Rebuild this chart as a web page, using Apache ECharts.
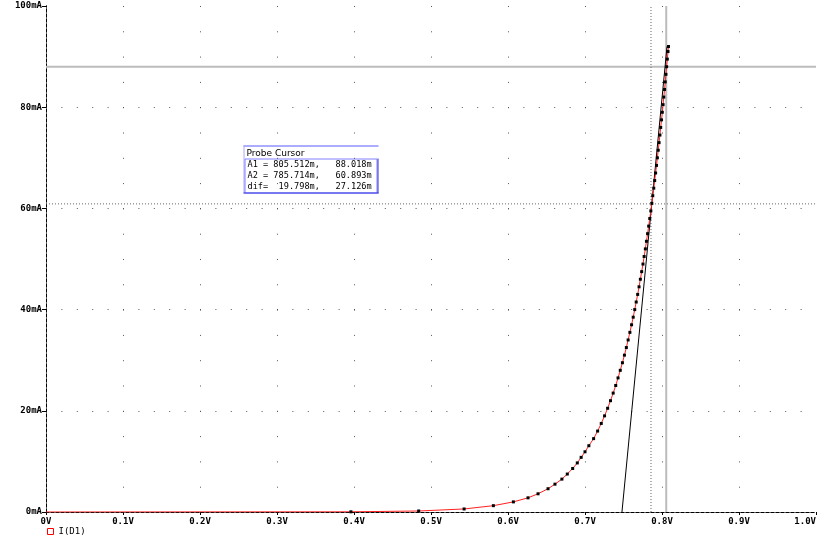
<!DOCTYPE html>
<html>
<head>
<meta charset="utf-8">
<script src="https://cdn.jsdelivr.net/npm/echarts@6/dist/echarts.min.js"></script>
<style>
html,body{margin:0;padding:0;background:#fff;}
#chart{width:825px;height:537px;}
</style>
</head>
<body>
<div id="chart"></div>
<script>
// ---- data ----
const xTickLabels = ['0V','0.1V','0.2V','0.3V','0.4V','0.5V','0.6V','0.7V','0.8V','0.9V','1.0V'];
const yTickLabels = ['0mA','20mA','40mA','60mA','80mA','100mA'];
const seriesName = 'I(D1)';
// diode voltage (V)
const diodeV = [0, 0.396, 0.484, 0.543, 0.581, 0.607, 0.626, 0.639, 0.652, 0.661, 0.670, 0.677, 0.684, 0.690, 0.695, 0.700, 0.705,
  0.7112, 0.7164, 0.7211, 0.7254, 0.7294, 0.7331, 0.7366, 0.7399, 0.7429, 0.7458, 0.7486, 0.7512, 0.7537, 0.7560,
  0.7583, 0.7605, 0.7626, 0.7646, 0.7665, 0.7684, 0.7702, 0.7719, 0.7736, 0.7753, 0.7768, 0.7784, 0.7798, 0.7813,
  0.7827, 0.7841, 0.7855, 0.7868, 0.7880, 0.7893, 0.7905, 0.7917, 0.7929, 0.7940, 0.7951, 0.7962, 0.7973, 0.7983,
  0.7994, 0.8004, 0.8014, 0.8023, 0.8033, 0.8042, 0.8051, 0.8060, 0.8069, 0.8078, 0.8084];
// diode current (mA)
const diodeI = [0, 0.04, 0.2, 0.6, 1.25, 2.0, 2.8, 3.6, 4.6, 5.5, 6.5, 7.5, 8.6, 9.7, 10.8, 11.9, 13.1,
  14.5, 16, 17.5, 19, 20.5, 22, 23.5, 25, 26.5, 28, 29.5, 31, 32.5, 34,
  35.5, 37, 38.5, 40, 41.5, 43, 44.5, 46, 47.5, 49, 50.5, 52, 53.5, 55,
  56.5, 58, 59.5, 61, 62.5, 64, 65.5, 67, 68.5, 70, 71.5, 73, 74.5, 76,
  77.5, 79, 80.5, 82, 83.5, 85, 86.5, 88, 89.5, 91, 92];
// slope line (V, mA)
const slopeV = [0.748, 0.8065];
const slopeI = [0, 92];
// probe cursors (V, mA)
const cursorA1 = [0.805512, 88.018];
const cursorA2 = [0.785714, 60.893];
const probeTitle = 'Probe Cursor';
const probeRows = ['A1 = 805.512m,   88.018m', 'A2 = 785.714m,   60.893m', 'dif=  19.798m,   27.126m'];

// ---- chart ----
const FONT = 'DejaVu Sans Mono';
const X_MIN = 0, X_MAX = 1, Y_MIN = 0, Y_MAX = 100;
const curveData = diodeV.map((v, i) => i === 0 ? {value: [v, diodeI[i]], symbol: 'none'} : [v, diodeI[i]]);
const slopeData = slopeV.map((v, i) => [v, slopeI[i]]);
const dashBorder = {show: true, lineStyle: {color: '#000', width: 1, type: [3, 2]}};
function cursorSeries(data, style) {
  return {type: 'line', data: data, showSymbol: false, silent: true, z: 1, lineStyle: style, animation: false};
}
const solidCursor = {color: '#bcbcbc', width: 2, type: 'solid'};
const dotCursor = {color: '#666', width: 1, type: [1, 2]};

const chart = echarts.init(document.getElementById('chart'), null, {renderer: 'canvas'});
chart.setOption({
  animation: false,
  backgroundColor: '#fff',
  grid: {left: 46, right: 9, top: 6, bottom: 25, containLabel: false, outerBoundsMode: 'none'},
  legend: {
    data: [seriesName], left: 47, top: 527, padding: 0, icon: 'rect', itemWidth: 6, itemHeight: 6, itemGap: 4,
    itemStyle: {color: '#fff', borderColor: '#ff0000', borderWidth: 1},
    textStyle: {fontFamily: FONT, fontSize: 9, color: '#000'}
  },
  xAxis: [{
    type: 'value', min: X_MIN, max: X_MAX, interval: 0.1, position: 'bottom',
    axisLine: dashBorder,
    axisTick: {show: true, length: 3, lineStyle: {color: '#000'}},
    axisLabel: {fontFamily: FONT, fontSize: 9, fontWeight: 'bold', color: '#000', margin: 5,
      alignMaxLabel: 'right',
      formatter: v => xTickLabels[Math.round(v * 10)]},
    splitLine: {show: true, showMinLine: false, showMaxLine: false, lineStyle: {color: '#555', width: 1, type: [1, 24.3]}}
  }, {
    type: 'value', min: X_MIN, max: X_MAX, interval: 0.1, position: 'top',
    axisLine: dashBorder, axisTick: {show: false}, axisLabel: {show: false}, splitLine: {show: false}
  }],
  yAxis: [{
    type: 'value', min: Y_MIN, max: Y_MAX, interval: 20, position: 'left',
    axisLine: dashBorder,
    axisTick: {show: true, length: 4, lineStyle: {color: '#000'}},
    axisLabel: {fontFamily: FONT, fontSize: 9, fontWeight: 'bold', color: '#000', margin: 4,
      formatter: v => yTickLabels[Math.round(v / 20)]},
    splitLine: {show: true, showMinLine: false, showMaxLine: false, lineStyle: {color: '#555', width: 1, type: [1, 14.4]}}
  }, {
    type: 'value', min: Y_MIN, max: Y_MAX, interval: 20, position: 'right',
    axisLine: dashBorder, axisTick: {show: false}, axisLabel: {show: false}, splitLine: {show: false}
  }],
  series: [
    cursorSeries([[cursorA1[0], Y_MIN], [cursorA1[0], Y_MAX]], solidCursor),
    cursorSeries([[X_MIN, cursorA1[1]], [X_MAX, cursorA1[1]]], solidCursor),
    cursorSeries([[cursorA2[0], Y_MIN], [cursorA2[0], Y_MAX]], dotCursor),
    cursorSeries([[X_MIN, cursorA2[1]], [X_MAX, cursorA2[1]]], dotCursor),
  {
    name: 'slope', type: 'line', data: slopeData, showSymbol: false, silent: true, z: 3,
    lineStyle: {color: '#000', width: 1}
  }, {
    name: seriesName, type: 'line', data: curveData, z: 4,
    symbol: 'rect', symbolSize: 3, showSymbol: true, showAllSymbol: true,
    lineStyle: {color: '#ff2020', width: 1},
    itemStyle: {color: '#000', borderWidth: 0}
  }],
  graphic: [{
    type: 'group', left: 241, top: 143, z: 100,
    children: [
      {type: 'rect', shape: {x: 0, y: 0, width: 134, height: 48}, style: {fill: '#fff', stroke: null}},
      {type: 'line', shape: {x1: 0, y1: 0.5, x2: 135, y2: 0.5}, style: {stroke: '#5a5aff', lineWidth: 1}},
      {type: 'line', shape: {x1: 0.5, y1: 0, x2: 0.5, y2: 48}, style: {stroke: '#a8a8ff', lineWidth: 1}},
      {type: 'text', style: {x: 3, y: 8, text: probeTitle, font: '9px "DejaVu Sans"', fill: '#000', textVerticalAlign: 'middle'}},
      {type: 'rect', shape: {x: 1.5, y: 13.5, width: 132, height: 34}, style: {fill: null, stroke: '#8080ff', lineWidth: 1}},
      {type: 'line', shape: {x1: 0, y1: 47.5, x2: 135, y2: 47.5}, style: {stroke: '#3030e0', lineWidth: 1}},
      {type: 'line', shape: {x1: 134.5, y1: 13, x2: 134.5, y2: 48}, style: {stroke: '#3030e0', lineWidth: 1}},
      {type: 'text', style: {x: 4, y: 19, text: probeRows[0], font: '8.6px "DejaVu Sans Mono"', fill: '#000', textVerticalAlign: 'middle'}},
      {type: 'text', style: {x: 4, y: 30, text: probeRows[1], font: '8.6px "DejaVu Sans Mono"', fill: '#000', textVerticalAlign: 'middle'}},
      {type: 'text', style: {x: 4, y: 41, text: probeRows[2], font: '8.6px "DejaVu Sans Mono"', fill: '#000', textVerticalAlign: 'middle'}}
    ]
  }]
});
</script>
</body>
</html>
